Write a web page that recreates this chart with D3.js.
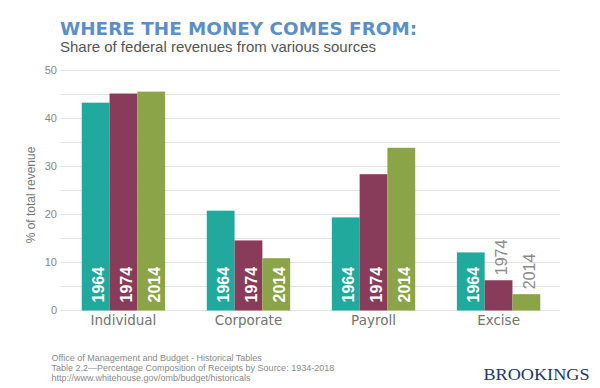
<!DOCTYPE html>
<html lang="en">
<head>
    <meta charset="UTF-8">
    <title>Where the money comes from</title>
    <script src="https://d3js.org/d3.v7.min.js"></script>
    <style>
        body { margin: 0; background: #fff; }
        svg { display: block; }
    </style>
</head>
<body>
    <svg width="600" height="388"></svg>
    <script>
        // data
        const categories = ["Individual", "Corporate", "Payroll", "Excise"];
        const years = ["1964", "1974", "2014"];
        const values1964 = [43.3, 20.8, 19.4, 12.1];
        const values1974 = [45.2, 14.6, 28.4, 6.3];
        const values2014 = [45.6, 10.9, 33.9, 3.4];
        const yTicks = [0, 10, 20, 30, 40, 50];
        const colors = ["#20a99c", "#893c5a", "#8aa447"];
        const sourceLines = [
            "Office of Management and Budget - Historical Tables",
            "Table 2.2\u2014Percentage Composition of Receipts by Source: 1934-2018",
            "http://www.whitehouse.gov/omb/budget/historicals"
        ];

        const series = [values1964, values1974, values2014];
        const rows = [];
        categories.forEach((c, i) => {
            years.forEach((yr, j) => rows.push({ cat: c, year: yr, value: series[j][i], k: j }));
        });

        const svg = d3.select("svg");

        const x0 = d3.scaleBand().domain(categories).range([62, 560])
            .paddingInner(1 / 3).paddingOuter(0.158);
        const x1 = d3.scaleBand().domain(years).range([0, x0.bandwidth()]);
        const y = d3.scaleLinear().domain([0, 50]).range([310.5, 70.5]);

        // gridlines every 5
        svg.append("g").selectAll("line")
            .data(d3.range(0, 51, 5))
            .join("line")
            .attr("x1", 61).attr("x2", 560)
            .attr("y1", d => y(d)).attr("y2", d => y(d))
            .attr("stroke", "#e2e2e2").attr("stroke-width", 1);

        // y tick labels
        svg.append("g").selectAll("text")
            .data(yTicks)
            .join("text")
            .attr("x", 57).attr("y", d => y(d))
            .attr("dy", "0.35em")
            .attr("text-anchor", "end")
            .attr("font-family", "Liberation Sans, Arial, sans-serif")
            .attr("font-size", 11)
            .attr("fill", "#888")
            .text(d => d);

        svg.append("text")
            .attr("transform", "translate(35,195) rotate(-90)")
            .attr("text-anchor", "middle")
            .attr("font-family", "Liberation Sans, Arial, sans-serif")
            .attr("font-size", 12)
            .attr("fill", "#777")
            .text("% of total revenue");

        // bars
        const bars = svg.append("g").selectAll("g")
            .data(rows)
            .join("g")
            .attr("transform", d => `translate(${x0(d.cat) + x1(d.year)},0)`);

        bars.append("rect")
            .attr("y", d => y(d.value))
            .attr("width", x1.bandwidth())
            .attr("height", d => y(0) - y(d.value))
            .attr("fill", d => colors[d.k]);

        // year labels: inside the bar when it fits, above it otherwise
        const fits = d => y(0) - y(d.value) > 45;
        bars.append("text")
            .attr("transform", d => {
                const ty = fits(d) ? y(0) - 8 : y(d.value) - 5;
                return `translate(${x1.bandwidth() / 2 + 8.5},${ty}) rotate(-90)`;
            })
            .attr("font-family", "Liberation Sans, Arial, sans-serif")
            .attr("font-size", 16)
            .attr("font-weight", d => (fits(d) ? "bold" : "normal"))
            .attr("fill", d => (fits(d) ? "#fff" : "#8a8a8a"))
            .text(d => d.year);

        // category labels
        svg.append("g").selectAll("text")
            .data(categories)
            .join("text")
            .attr("x", d => x0(d) + x0.bandwidth() / 2)
            .attr("y", 325)
            .attr("text-anchor", "middle")
            .attr("font-family", "DejaVu Sans, sans-serif")
            .attr("font-size", 13.5)
            .attr("fill", "#737373")
            .text(d => d);

        // titles
        svg.append("text")
            .attr("x", 60).attr("y", 35)
            .attr("font-family", "DejaVu Sans, sans-serif")
            .attr("font-weight", "bold")
            .attr("font-size", 17)
            .attr("textLength", 357)
            .attr("lengthAdjust", "spacingAndGlyphs")
            .attr("fill", "#5b8fc7")
            .text("WHERE THE MONEY COMES FROM:");

        svg.append("text")
            .attr("x", 60).attr("y", 51.5)
            .attr("font-family", "Liberation Sans, Arial, sans-serif")
            .attr("font-size", 15)
            .attr("fill", "#555")
            .text("Share of federal revenues from various sources");

        // source note
        svg.append("g").selectAll("text")
            .data(sourceLines)
            .join("text")
            .attr("x", 51.5)
            .attr("y", (d, i) => 360.5 + i * 10)
            .attr("font-family", "Liberation Sans, Arial, sans-serif")
            .attr("font-size", 9)
            .attr("fill", "#8a8a8a")
            .text(d => d);

        svg.append("text")
            .attr("x", 483.5).attr("y", 380)
            .attr("font-family", "Liberation Serif, Times New Roman, serif")
            .attr("font-size", 17.5)
            .attr("textLength", 106)
            .attr("lengthAdjust", "spacingAndGlyphs")
            .attr("fill", "#22396b")
            .text("BROOKINGS");
    </script>
</body>
</html>
